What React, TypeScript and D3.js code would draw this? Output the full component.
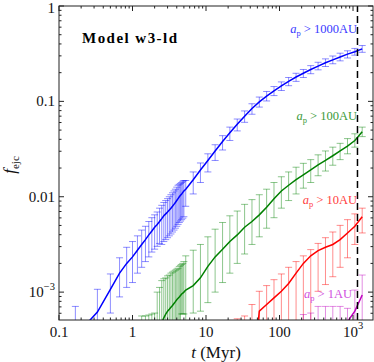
import React from 'react';
import * as d3 from 'd3';

const W = 374;
const H = 362;
const margin = { top: 6, right: 1, bottom: 42, left: 59 };

const xDomain = [0.1, 1870];
const yDomain = [5.1e-4, 1];
const tCut = 1150; // dashed vertical line (Myr)

// sample times (Myr): fine linear steps early on, then log steps
const tDense = [0.167, 0.333, 0.5, 0.667, 0.833, 1.0, 1.167, 1.333, 1.5, 1.667, 1.833, 2.0, 2.167, 2.333, 2.5,
  2.667, 2.833, 3.0, 3.167, 3.333, 3.5, 3.667, 3.833, 4.0, 4.167, 4.333, 4.5, 4.667, 4.833, 5.0];
const tLog = [5.3, 6.7, 8.4, 10.6, 13.3, 16.8, 21.1, 26.6, 33.5, 42.2, 53.1, 66.8, 84.1, 106, 133, 168, 211,
  266, 335, 422, 531, 668, 841, 1059, 1333];

// a_p > 1000 AU
const blueMed = [3.47e-4, 6.17e-4, 1.07e-3, 1.58e-3, 2.0e-3, 2.34e-3, 2.75e-3, 3.16e-3, 3.55e-3, 3.98e-3, 4.37e-3,
  4.79e-3, 5.13e-3, 5.5e-3, 5.89e-3, 6.31e-3, 6.61e-3, 6.92e-3, 7.24e-3, 7.59e-3, 7.94e-3, 8.32e-3, 8.71e-3,
  9.12e-3, 9.55e-3, 1.0e-2, 1.035e-2, 1.07e-2, 1.11e-2, 1.15e-2,
  1.2e-2, 1.51e-2, 1.91e-2, 2.4e-2, 3.02e-2, 3.8e-2, 4.68e-2, 5.75e-2, 7.0e-2, 8.41e-2, 9.89e-2, 0.1135, 0.129,
  0.145, 0.162, 0.18, 0.197, 0.216, 0.234, 0.254, 0.272, 0.292, 0.313, 0.331, 0.355];
const blueHi = [7.08e-4, 1.07e-3, 1.55e-3, 2.29e-3, 2.95e-3, 3.39e-3, 3.89e-3, 4.47e-3, 4.9e-3, 5.5e-3, 6.03e-3,
  6.46e-3, 6.92e-3, 7.59e-3, 8.13e-3, 8.71e-3, 9.12e-3, 9.55e-3, 1.0e-2, 1.05e-2, 1.1e-2, 1.15e-2, 1.2e-2,
  1.26e-2, 1.32e-2, 1.35e-2, 1.38e-2, 1.41e-2, 1.45e-2, 1.48e-2,
  1.48e-2, 1.82e-2, 2.26e-2, 2.82e-2, 3.51e-2, 4.37e-2, 5.37e-2, 6.53e-2, 7.94e-2, 9.44e-2, 0.111, 0.127, 0.143,
  0.16, 0.178, 0.197, 0.216, 0.237, 0.257, 0.279, 0.299, 0.32, 0.339, 0.359, 0.385];
const blueLo = [1e-5, 1e-5, 6.03e-4, 8.91e-4, 1.12e-3, 1.26e-3, 1.58e-3, 1.82e-3, 2.09e-3, 2.34e-3, 2.63e-3,
  2.82e-3, 3.02e-3, 3.24e-3, 3.16e-3, 3.39e-3, 3.55e-3, 3.72e-3, 3.89e-3, 4.07e-3, 4.27e-3, 4.47e-3, 4.68e-3,
  4.9e-3, 5.13e-3, 5.37e-3, 5.56e-3, 5.75e-3, 5.96e-3, 6.17e-3,
  7.94e-3, 1.07e-2, 1.41e-2, 1.82e-2, 2.4e-2, 3.09e-2, 3.89e-2, 4.9e-2, 6.03e-2, 7.33e-2, 8.71e-2, 0.101, 0.115,
  0.13, 0.146, 0.162, 0.178, 0.195, 0.214, 0.232, 0.248, 0.266, 0.285, 0.305, 0.327];

// a_p > 100 AU (starts at t = 1.333)
const greenMed = [1.12e-4, 1.26e-4, 1.41e-4, 1.58e-4, 2.51e-4, 3.55e-4, 4.17e-4, 4.79e-4, 5.37e-4, 5.89e-4,
  6.31e-4, 6.61e-4, 6.92e-4, 7.24e-4, 7.59e-4, 7.94e-4, 8.32e-4, 8.61e-4, 8.91e-4, 9.23e-4, 9.55e-4, 9.77e-4, 1.0e-3,
  1.05e-3, 1.17e-3, 1.41e-3, 1.86e-3, 2.34e-3, 2.82e-3, 3.39e-3, 3.98e-3, 4.79e-3, 5.5e-3, 6.46e-3, 7.76e-3,
  9.55e-3, 1.15e-2, 1.32e-2, 1.51e-2, 1.7e-2, 1.91e-2, 2.16e-2, 2.4e-2, 2.69e-2, 3.02e-2, 3.39e-2, 3.89e-2, 4.79e-2];
const greenHi = [5.62e-4, 5.62e-4, 5.75e-4, 5.89e-4, 6.03e-4, 1.0e-3, 1.12e-3, 1.32e-3, 1.38e-3, 1.41e-3,
  1.48e-3, 1.51e-3, 1.58e-3, 1.62e-3, 1.66e-3, 1.7e-3, 1.74e-3, 1.78e-3, 1.86e-3, 1.91e-3, 1.95e-3, 2.0e-3, 2.09e-3,
  2.4e-3, 2.75e-3, 3.16e-3, 3.8e-3, 4.57e-3, 5.37e-3, 6.31e-3, 7.08e-3, 8.32e-3, 9.33e-3, 1.05e-2, 1.2e-2,
  1.41e-2, 1.62e-2, 1.82e-2, 2.04e-2, 2.24e-2, 2.45e-2, 2.75e-2, 3.02e-2, 3.31e-2, 3.63e-2, 4.07e-2, 4.57e-2, 5.37e-2];
const greenLo = [1e-5, 1e-5, 1e-5, 1e-5, 1e-5, 1e-5, 1e-5, 1e-5, 1e-5, 1e-5,
  1e-5, 1e-5, 1e-5, 1e-5, 1e-5, 1e-5, 1e-5, 1e-5, 1e-5, 1e-5, 5.9e-4, 5.9e-4, 5.9e-4,
  1e-5, 6.03e-4, 6.31e-4, 7.76e-4, 1.0e-3, 1.26e-3, 1.58e-3, 2.0e-3, 2.51e-3, 3.16e-3, 3.8e-3, 4.68e-3,
  6.03e-3, 7.59e-3, 9.12e-3, 1.07e-2, 1.23e-2, 1.41e-2, 1.66e-2, 1.86e-2, 2.14e-2, 2.45e-2, 2.82e-2, 3.31e-2, 4.27e-2];

// a_p > 10 AU (starts at t = 26.6)
const redMed = [1e-5, 1e-5, 1e-4, 6.31e-4, 7.41e-4, 8.71e-4, 1.02e-3, 1.23e-3, 1.58e-3, 2.0e-3, 2.4e-3, 2.72e-3,
  2.95e-3, 3.16e-3, 3.55e-3, 4.17e-3, 4.9e-3, 6.17e-3];
const redHi = [5.25e-4, 5.62e-4, 7.41e-4, 1.02e-3, 1.17e-3, 1.35e-3, 1.55e-3, 1.82e-3, 2.09e-3, 2.4e-3, 2.79e-3,
  3.24e-3, 3.72e-3, 4.27e-3, 5.01e-3, 5.75e-3, 6.61e-3, 7.59e-3];
const redLo = [1e-5, 1e-5, 1e-5, 1e-5, 1e-5, 1e-5, 1e-5, 1e-5, 1e-5, 1e-5, 1e-5, 1.02e-3, 1.2e-3, 1.45e-3, 1.82e-3,
  2.29e-3, 3.16e-3, 4.17e-3];

// a_p > 1 AU (starts at t = 211)
const magMed = [1e-5, 1e-5, 1e-5, 1e-5, 1e-5, 1e-4, 4.9e-4, 6.31e-4, 9.33e-4];
const magHi = [5.82e-4, 6.03e-4, 7.08e-4, 7.08e-4, 7.08e-4, 7.08e-4, 6.76e-4, 1.05e-3, 1.51e-3];
const magLo = [1e-5, 1e-5, 1e-5, 1e-5, 1e-5, 1e-5, 1e-5, 1e-5, 1e-5];

const series = [
  { key: 'b', t: [...tDense, ...tLog], med: blueMed, hi: blueHi, lo: blueLo, color: '#0000ff' },
  { key: 'g', t: [...tDense.slice(7), ...tLog], med: greenMed, hi: greenHi, lo: greenLo, color: '#008000' },
  { key: 'r', t: tLog.slice(7), med: redMed, hi: redHi, lo: redLo, color: '#ff0000' },
  { key: 'm', t: tLog.slice(16), med: magMed, hi: magHi, lo: magLo, color: '#bf00bf' },
];

const labels = [
  { text: '1000AU', color: '#3838ff', x: 357, y: 33 },
  { text: '100AU', color: '#3a9a3a', x: 357, y: 120 },
  { text: '10AU', color: '#ff4040', x: 357, y: 204 },
  { text: '1AU', color: '#d050e0', x: 352, y: 298 },
];

const serif = '"Liberation Serif", "DejaVu Serif", serif';

export default function App() {
  const x = d3.scaleLog().domain(xDomain).range([margin.left, W - margin.right]);
  const y = d3.scaleLog().domain(yDomain).range([H - margin.bottom, margin.top]);
  const [x0, x1] = x.range();
  const [y0, y1] = y.range();

  const xMajor = [0.1, 1, 10, 100, 1000];
  const xMinor = x.ticks().filter(v => !xMajor.some(m => Math.abs(m - v) / m < 1e-6));
  const yMajor = [1e-3, 1e-2, 0.1, 1];
  const yMinor = y.ticks().filter(v => !yMajor.some(m => Math.abs(m - v) / m < 1e-6));

  const line = d3.line<number>();
  const cap = 3.5;

  return (
    <svg width={W} height={H} style={{ position: 'absolute', left: 0, top: 0, background: '#fff' }}
      fontFamily={serif}>
      <defs>
        <clipPath id="plot">
          <rect x={x0} y={y1} width={x1 - x0} height={y0 - y1} />
        </clipPath>
      </defs>

      <g clipPath="url(#plot)">
        {series.map(s => {
          const pts: [number, number][] = s.t.map((t, i) => [x(t), y(s.med[i])]);
          return (
            <g key={s.key}>
              <g stroke={s.color} strokeOpacity={0.45} strokeWidth={1} fill="none">
                {s.t.map((t, i) => {
                  const px = x(t);
                  const yh = y(s.hi[i]);
                  const yl = y(s.lo[i]);
                  return (
                    <g key={i}>
                      <line x1={px} x2={px} y1={yl} y2={yh} />
                      <line x1={px - cap} x2={px + cap} y1={yh} y2={yh} />
                      <line x1={px - cap} x2={px + cap} y1={yl} y2={yl} />
                    </g>
                  );
                })}
              </g>
              <path d={line(pts) ?? ''} fill="none" stroke={s.color} strokeWidth={1.5} />
            </g>
          );
        })}
        <line x1={x(tCut)} x2={x(tCut)} y1={y0} y2={y1} stroke="#000" strokeWidth={1.5}
          strokeDasharray="7,4" />
      </g>

      {/* frame and ticks */}
      <g stroke="#222" strokeWidth={1}>
        <rect x={x0} y={y1} width={x1 - x0} height={y0 - y1} fill="none" />
        {xMajor.map(v => (
          <g key={'xM' + v}>
            <line x1={x(v)} x2={x(v)} y1={y0} y2={y0 - 5} />
            <line x1={x(v)} x2={x(v)} y1={y1} y2={y1 + 5} />
          </g>
        ))}
        {xMinor.map(v => (
          <g key={'xm' + v}>
            <line x1={x(v)} x2={x(v)} y1={y0} y2={y0 - 2.5} />
            <line x1={x(v)} x2={x(v)} y1={y1} y2={y1 + 2.5} />
          </g>
        ))}
        {yMajor.map(v => (
          <g key={'yM' + v}>
            <line x1={x0} x2={x0 + 5} y1={y(v)} y2={y(v)} />
            <line x1={x1} x2={x1 - 5} y1={y(v)} y2={y(v)} />
          </g>
        ))}
        {yMinor.map(v => (
          <g key={'ym' + v}>
            <line x1={x0} x2={x0 + 2.5} y1={y(v)} y2={y(v)} />
            <line x1={x1} x2={x1 - 2.5} y1={y(v)} y2={y(v)} />
          </g>
        ))}
      </g>

      {/* tick labels */}
      <g fontSize={15} fill="#111">
        <text x={x(0.1)} y={y0 + 17} textAnchor="middle">0.1</text>
        <text x={x(1)} y={y0 + 17} textAnchor="middle">1</text>
        <text x={x(10)} y={y0 + 17} textAnchor="middle">10</text>
        <text x={x(100)} y={y0 + 17} textAnchor="middle">100</text>
        <text x={x(1000)} y={y0 + 17} textAnchor="middle">10<tspan fontSize={10.5} dy={-8}>3</tspan></text>

        <text x={x0 - 4} y={y(1) + 7} textAnchor="end">1</text>
        <text x={x0 - 4} y={y(0.1) + 5} textAnchor="end">0.1</text>
        <text x={x0 - 4} y={y(0.01) + 5} textAnchor="end">0.01</text>
        <text x={x0 - 4} y={y(1e-3) + 5} textAnchor="end">10<tspan fontSize={10.5} dy={-7}>−3</tspan></text>
      </g>

      {/* axis titles */}
      <text x={(x0 + x1) / 2} y={358} textAnchor="middle" fontSize={17} fill="#111">
        <tspan fontStyle="italic">t</tspan> (Myr)
      </text>
      <text transform={`translate(15,${(y0 + y1) / 2 + 2}) rotate(-90)`} textAnchor="middle" fontSize={17} fill="#111">
        <tspan fontStyle="italic">f</tspan><tspan fontSize={11} dy={4}>ejc</tspan>
      </text>

      <text x={82} y={43} fontSize={15} fontWeight="bold" fill="#000" textLength={95} lengthAdjust="spacing">
        Model w3-ld
      </text>

      {labels.map(l => (
        <text key={l.text} x={l.x} y={l.y} textAnchor="end" fontSize={12.5} fill={l.color}>
          <tspan fontStyle="italic">a</tspan><tspan fontSize={8.5} dy={3}>p</tspan>
          <tspan dy={-3}> &gt; {l.text}</tspan>
        </text>
      ))}
    </svg>
  );
}
